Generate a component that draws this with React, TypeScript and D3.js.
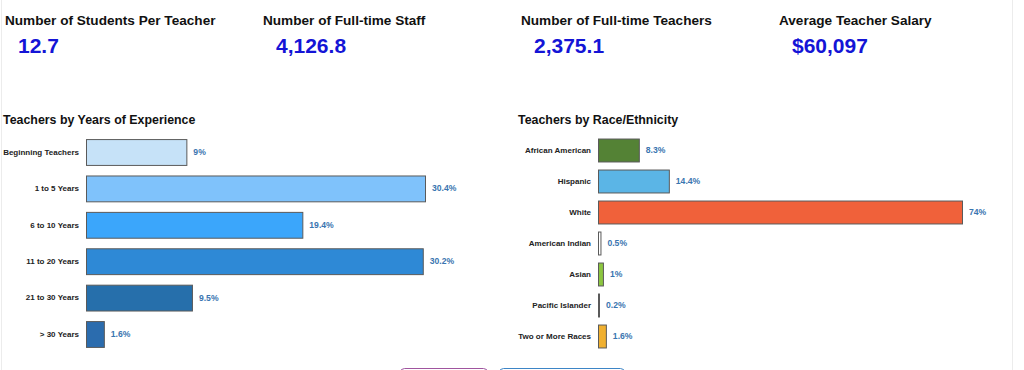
import React from 'react';
import * as d3 from 'd3';

const kpiTitles = [
  'Number of Students Per Teacher',
  'Number of Full-time Staff',
  'Number of Full-time Teachers',
  'Average Teacher Salary',
];
const kpiValues = ['12.7', '4,126.8', '2,375.1', '$60,097'];

const expCategories = [
  'Beginning Teachers',
  '1 to 5 Years',
  '6 to 10 Years',
  '11 to 20 Years',
  '21 to 30 Years',
  '> 30 Years',
];
const expValues = [9, 30.4, 19.4, 30.2, 9.5, 1.6];
const expColors = ['#c6e2f8', '#7fc2fb', '#3ba6fb', '#2e89d6', '#266fab', '#2b6cae'];

const raceCategories = [
  'African American',
  'Hispanic',
  'White',
  'American Indian',
  'Asian',
  'Pacific Islander',
  'Two or More Races',
];
const raceValues = [8.3, 14.4, 74, 0.5, 1, 0.2, 1.6];
const raceColors = ['#548235', '#5bb5e6', '#f0613a', '#ffffff', '#8cc63f', '#9a9a9a', '#f0b030'];

const FONT = '"Liberation Sans", Arial, Helvetica, sans-serif';
const VALUE_BLUE = '#1414d6';
const LABEL_BLUE = '#3a75b0';

interface BarChartProps {
  title: string;
  titleX: number;
  categories: string[];
  values: number[];
  colors: string[];
  x0: number;
  x1: number;
  maxValue: number;
  y0: number;
  y1: number;
  padInner: number;
}

const BarChart: React.FC<BarChartProps> = ({
  title, titleX, categories, values, colors, x0, x1, maxValue, y0, y1, padInner,
}) => {
  const xScale = d3.scaleLinear().domain([0, maxValue]).range([x0, x1]);
  const yScale = d3
    .scaleBand<string>()
    .domain(categories)
    .range([y0, y1])
    .paddingInner(padInner)
    .paddingOuter(padInner / 2);
  const bw = yScale.bandwidth();

  return (
    <g>
      <text x={titleX} y={124} fontSize={12.4} fontWeight="bold" fill="#111" fontFamily={FONT}>
        {title}
      </text>
      {categories.map((c, i) => {
        const y = yScale(c) as number;
        const w = Math.max(xScale(values[i]) - x0, 1);
        return (
          <g key={c}>
            <text
              x={x0 - 7}
              y={y + bw / 2}
              dy="0.35em"
              textAnchor="end"
              fontSize={8}
              fontWeight="bold"
              fill="#222"
              fontFamily={FONT}
            >
              {c}
            </text>
            <rect
              x={x0 + 0.5}
              y={y + 0.5}
              width={w}
              height={bw}
              fill={colors[i]}
              stroke="#5a5a5a"
              strokeWidth={1}
            />
            <text
              x={x0 + w + 7}
              y={y + bw / 2}
              dy="0.35em"
              fontSize={8.6}
              fontWeight="bold"
              fill={LABEL_BLUE}
              fontFamily={FONT}
            >
              {values[i]}%
            </text>
          </g>
        );
      })}
    </g>
  );
};

export default function App() {
  const kpiX = d3.scaleLinear().domain([0, 1]).range([5, 263]);

  return (
    <svg
      width={1024}
      height={370}
      style={{ position: 'absolute', left: 0, top: 0, background: '#fff', display: 'block' }}
    >
      <line x1={1.5} y1={0} x2={1.5} y2={370} stroke="#ececec" />
      <line x1={1012.5} y1={0} x2={1012.5} y2={370} stroke="#ececec" />

      {kpiTitles.map((t, i) => (
        <g key={t}>
          <text x={kpiX(i)} y={25} fontSize={13.6} fontWeight="bold" fill="#111" fontFamily={FONT}>
            {t}
          </text>
          <text
            x={kpiX(i) + 13}
            y={53}
            fontSize={21}
            fontWeight="bold"
            fill={VALUE_BLUE}
            fontFamily={FONT}
          >
            {kpiValues[i]}
          </text>
        </g>
      ))}

      <BarChart
        title="Teachers by Years of Experience"
        titleX={3}
        categories={expCategories}
        values={expValues}
        colors={expColors}
        x0={86}
        x1={425}
        maxValue={30.4}
        y0={133.8}
        y1={352.2}
        padInner={0.29}
      />
      <BarChart
        title="Teachers by Race/Ethnicity"
        titleX={518}
        categories={raceCategories}
        values={raceValues}
        colors={raceColors}
        x0={598}
        x1={962}
        maxValue={74}
        y0={134.5}
        y1={351.5}
        padInner={0.26}
      />

      <rect x={400.5} y={368.5} width={87} height={20} rx={4} fill="#fff" stroke="#a0559f" />
      <rect x={499.5} y={368.5} width={125} height={20} rx={4} fill="#fff" stroke="#3d85c6" />
    </svg>
  );
}
